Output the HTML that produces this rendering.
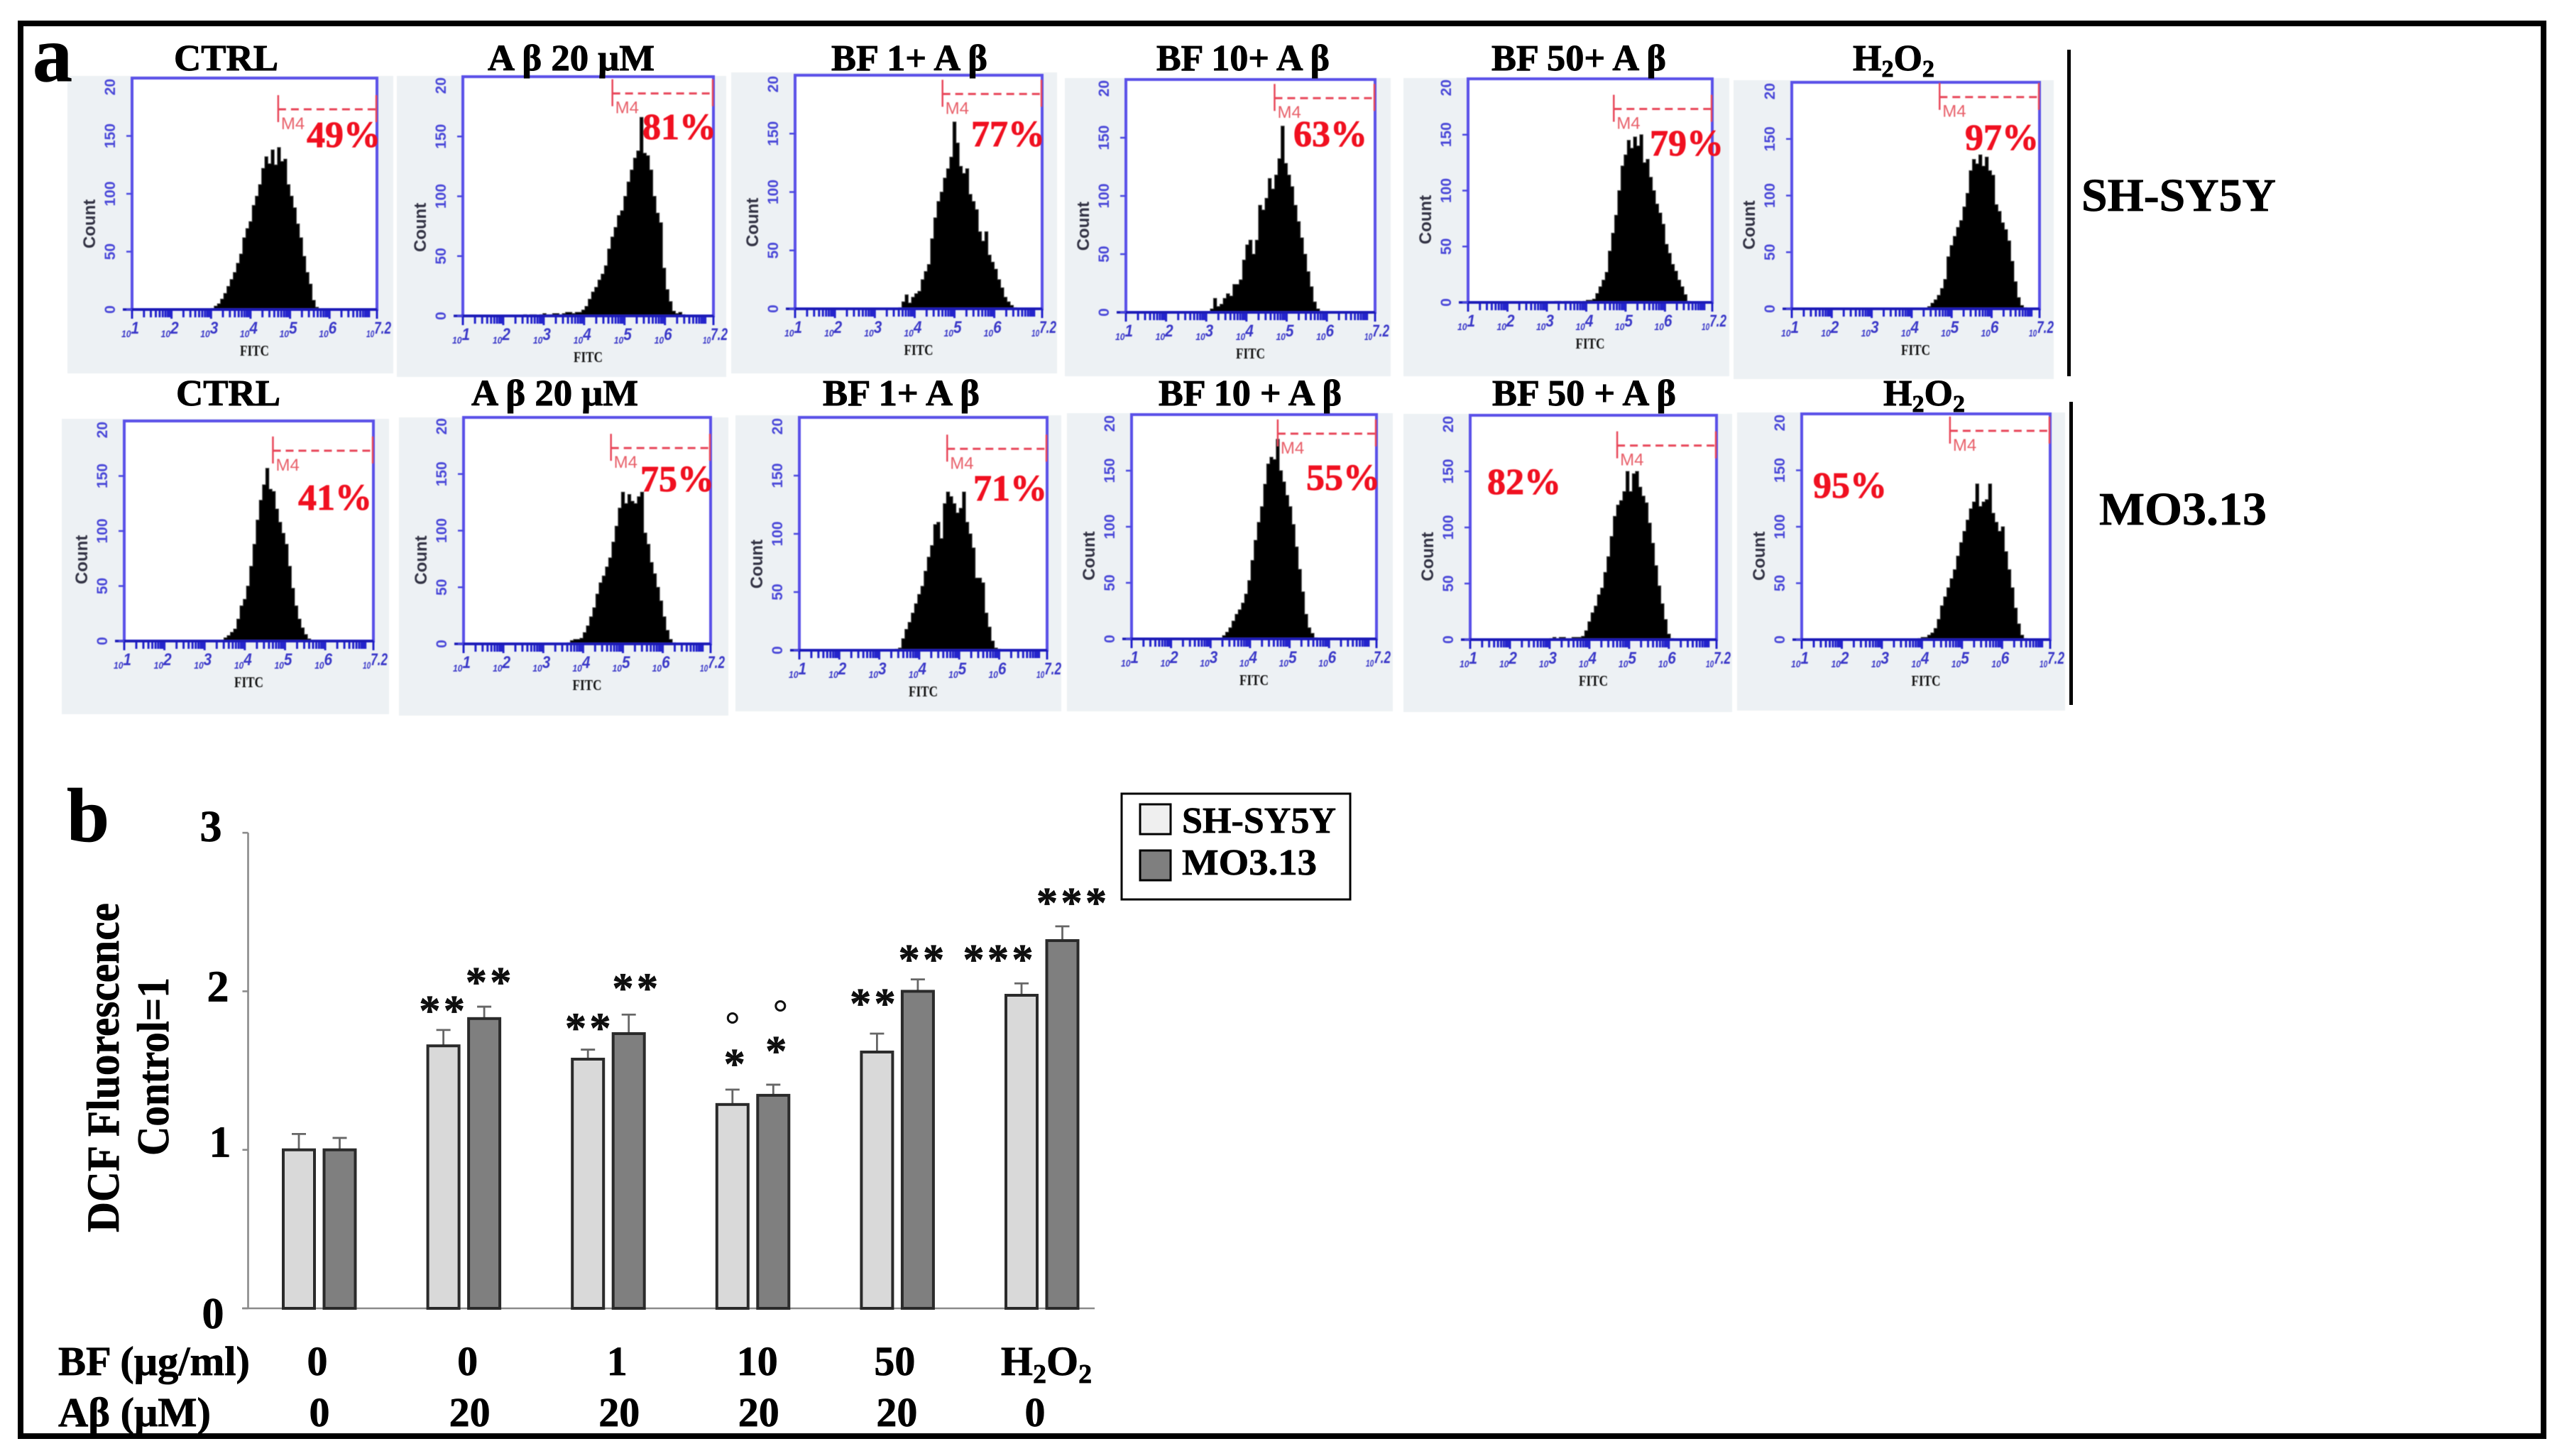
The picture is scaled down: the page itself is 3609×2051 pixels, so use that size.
<!DOCTYPE html>
<html lang="en">
<head>
<meta charset="utf-8">
<title>Flow cytometry histograms and DCF fluorescence bar chart</title>
<style>
html,body{margin:0;padding:0;background:#fff;}
svg{display:block;}
text{font-family:"Liberation Serif",serif;}
.sans{font-family:"Liberation Sans",sans-serif;}
#histograms{filter:blur(0.6px);}
#titles text,#row-2-under text{stroke:#000;stroke-width:0.9px;}
#bar-chart text,.heavy{stroke:#000;stroke-width:0.7px;}
</style>
</head>
<body>
<svg id="figure" xmlns="http://www.w3.org/2000/svg" width="3609" height="2051" viewBox="0 0 3609 2051">
  <rect x="0" y="0" width="3609" height="2051" fill="#ffffff"/>
  <g id="row-2-under"></g>
  <g id="histograms"></g>
  <g id="titles"></g>

  <text class="heavy" x="46" y="114" font-size="112" font-weight="700" fill="#000">a</text>
  <text class="heavy" x="94" y="1185" font-size="108" font-weight="700" fill="#000">b</text>

  <rect x="2912" y="70" width="5" height="460" fill="#000"/>
  <rect x="2915" y="566" width="5" height="427" fill="#000"/>
  <text class="heavy" x="2932" y="297" font-size="66" font-weight="700" textLength="274" lengthAdjust="spacingAndGlyphs" fill="#000">SH-SY5Y</text>
  <text class="heavy" x="2957" y="739" font-size="66" font-weight="700" textLength="236" lengthAdjust="spacingAndGlyphs" fill="#000">MO3.13</text>

  <g id="bar-chart"></g>

  <g>
    <rect x="1580" y="1118" width="322" height="149" fill="#fff" stroke="#000" stroke-width="3"/>
    <rect x="1606" y="1133" width="43" height="42" fill="#efefef" stroke="#000" stroke-width="3"/>
    <text class="heavy" x="1665" y="1173" font-size="52" font-weight="700" textLength="217" lengthAdjust="spacingAndGlyphs" fill="#000">SH-SY5Y</text>
    <rect x="1606" y="1198" width="43" height="42" fill="#7f7f7f" stroke="#000" stroke-width="3"/>
    <text class="heavy" x="1665" y="1232" font-size="52" font-weight="700" textLength="190" lengthAdjust="spacingAndGlyphs" fill="#000">MO3.13</text>
  </g>

  <text class="heavy" x="82" y="1937" font-size="58" font-weight="700" textLength="270" lengthAdjust="spacingAndGlyphs" fill="#000">BF (μg/ml)</text>
  <text class="heavy" x="82" y="2009" font-size="58" font-weight="700" textLength="215" lengthAdjust="spacingAndGlyphs" fill="#000">Aβ (μM)</text>

  <text class="heavy" transform="translate(167 1736) rotate(-90)" x="0" y="0" font-size="65" font-weight="700" textLength="464" lengthAdjust="spacingAndGlyphs" fill="#000">DCF Fluorescence</text>
  <text class="heavy" transform="translate(237 1628) rotate(-90)" x="0" y="0" font-size="64" font-weight="700" textLength="251" lengthAdjust="spacingAndGlyphs" fill="#000">Control=1</text>

  <rect x="29" y="33" width="3554" height="1990" fill="none" stroke="#000" stroke-width="8"/>
</svg>

<script>
/* ---------- Bar chart data ---------- */
const barCategoriesBF = ['0', '0', '1', '10', '50', 'H2O2'];
const barCategoriesAB = ['0', '20', '20', '20', '20', '0'];
const shsy5yValues = [1.0, 1.656, 1.572, 1.286, 1.617, 1.975];
const mo313Values = [1.0, 1.828, 1.733, 1.344, 2.0, 2.32];
const shsy5yErrors = [0.10, 0.10, 0.06, 0.094, 0.116, 0.075];
const mo313Errors = [0.075, 0.075, 0.12, 0.067, 0.075, 0.09];
const shsy5yStars = ['', '**', '**', '*', '**', '***'];
const mo313Stars = ['', '**', '**', '*', '**', '***'];
const shsy5yStarLevels = [0, 1.91, 1.80, 1.574, 1.955, 2.233];
const mo313StarLevels = [0, 2.09, 2.05, 1.655, 2.233, 2.59];
const yTickValues = [0, 1, 2, 3];

/* ---------- Histogram data: counts per bin, bins 0.08 log10 units wide ---------- */
const histogramBinStep = 0.08;
const histogramStarts = [3.0, 2.5, 3.6, 3.1, 3.2, 4.4, 3.4, 3.6, 3.4, 3.3, 3.0, 3.9];
const histCtrlSH = [1,3,5,9,14,20,26,32,40,48,62,70,76,90,98,108,122,132,126,138,125,140,128,130,108,98,88,74,62,46,32,22,8,2];
const histAbetaSH = [1,0,1,1,0,1,2,1,1,2,2,1,2,3,3,2,3,3,5,8,14,20,24,30,35,42,56,66,74,84,88,100,112,122,132,138,166,136,134,122,100,86,78,40,22,12,4,2,3,1];
const histBf1SH = [1,6,12,5,10,13,15,25,32,38,60,78,92,100,112,120,130,160,142,122,116,120,98,92,85,66,58,66,46,40,34,25,18,10,6,3,1];
const histBf10SH = [3,12,5,7,12,16,14,24,24,28,45,58,62,50,62,92,88,98,115,106,118,132,160,128,118,108,92,78,64,50,35,22,9,3,1];
const histBf50SH = [1,1,0,1,1,0,1,1,0,1,2,2,3,8,14,20,27,46,62,78,100,122,132,145,138,148,140,150,125,128,112,100,88,80,70,52,44,34,28,20,14,7,1];
const histH2o2SH = [2,5,8,12,18,26,46,56,64,72,78,90,102,122,132,128,136,126,134,122,118,92,86,76,70,60,42,24,10,3,1];
const histCtrlMO = [1,3,5,8,11,20,32,38,50,68,88,110,128,142,157,138,136,120,108,98,88,68,48,32,20,12,6,2];
const histAbetaMO = [1,3,4,4,5,10,16,24,32,44,54,60,68,76,90,104,120,134,124,132,126,124,130,134,98,88,72,62,50,38,24,12,4,1];
const histBf1MO = [1,2,10,18,24,32,40,48,55,68,80,90,108,110,96,126,136,132,126,118,122,136,110,100,88,62,62,58,32,20,8,2,1];
const histBf10MO = [3,6,10,16,22,26,32,40,52,70,88,104,118,138,156,162,160,178,150,140,128,118,102,82,62,42,22,10,5,1];
const histBf50MO = [1,2,1,2,2,1,1,2,2,2,3,8,16,24,30,40,46,60,74,92,110,120,124,132,150,132,148,150,136,128,122,104,86,66,48,32,18,5,1];
const histH2o2MO = [1,2,2,4,6,10,18,30,38,46,54,62,74,86,96,106,116,122,138,118,122,124,138,112,104,96,100,78,62,46,28,14,4,1];
const histogramSeries = [histCtrlSH, histAbetaSH, histBf1SH, histBf10SH, histBf50SH, histH2o2SH, histCtrlMO, histAbetaMO, histBf1MO, histBf10MO, histBf50MO, histH2o2MO];

const histogramTitles = ['CTRL', 'A β 20 μM', 'BF 1+ A β', 'BF 10+ A β', 'BF 50+ A β', 'H2O2', 'CTRL', 'A β 20 μM', 'BF 1+ A β', 'BF 10 + A β', 'BF 50 + A β', 'H2O2'];
const histogramPercents = ['49%', '81%', '77%', '63%', '79%', '97%', '41%', '75%', '71%', '55%', '82%', '95%'];
const markerStartLog = 4.70;
const markerEndLog = 7.2;
const markerLevels = [173, 186, 184, 184, 173, 187, 173, 173, 173, 183, 173, 185];
const countTicks = [0, 50, 100, 150];
const countAxisMax = 200;
const logAxisMin = 1;
const logAxisMax = 7.2;
const decadeLabels = ['1', '2', '3', '4', '5', '6', '7.2'];
const decadeValues = [1, 2, 3, 4, 5, 6, 7.2];
const minorMultipliers = [2, 3, 4, 5, 6, 7, 8, 9];

const SVGNS = 'http://www.w3.org/2000/svg';
function make(tag, attrs, parent, content) {
  const node = document.createElementNS(SVGNS, tag);
  for (const key in attrs) node.setAttribute(key, attrs[key]);
  if (content !== undefined) node.textContent = content;
  parent.appendChild(node);
  return node;
}

/* ---------- Histogram layout (page geometry, not data) ---------- */
function panelLayout() {
  return [
    {bg:[95,107,459,419],  box:[186,110,345,326],  pct:[432,207],  title:[245,99,147]},
    {bg:[559,107,464,424], box:[652,108,353,337],  pct:[905,196],  title:[687,99,235]},
    {bg:[1030,102,459,424],box:[1120,106,348,329], pct:[1368,206], title:[1171,99,220]},
    {bg:[1500,110,459,420],box:[1586,112,351,328], pct:[1822,206], title:[1629,99,244]},
    {bg:[1977,110,459,420],box:[2068,111,344,315], pct:[2324,219], title:[2101,99,246]},
    {bg:[2442,113,451,421],box:[2524,116,349,319], pct:[2768,211], title:[2610,99,115]},
    {bg:[87,590,461,416],  box:[175,593,351,310],  pct:[420,718],  title:[248,571,147]},
    {bg:[562,588,464,420], box:[653,588,348,319],  pct:[902,692],  title:[664,571,235]},
    {bg:[1036,585,459,417],box:[1126,588,349,328], pct:[1371,705], title:[1159,571,221]},
    {bg:[1503,582,459,420],box:[1594,584,345,316], pct:[1840,690], title:[1632,571,258]},
    {bg:[1977,583,463,420],box:[2071,585,347,316], pct:[2095,696], title:[2102,571,259]},
    {bg:[2447,581,462,420],box:[2538,583,350,318], pct:[2554,701], title:[2653,571,113]}
  ];
}

function drawTitle(parent, label, geom, index) {
  const t = make('text', {x: geom[0], y: geom[1], 'font-size': 52, 'font-weight': 700, fill: '#000'}, parent);
  
  
  if (label === 'H2O2') {
    make('tspan', {}, t, 'H');
    make('tspan', {'font-size': 34, dy: 9}, t, '2');
    make('tspan', {dy: -9}, t, 'O');
    make('tspan', {'font-size': 34, dy: 9}, t, '2');
  } else {
    t.setAttribute('textLength', geom[2]);
    t.setAttribute('lengthAdjust', 'spacingAndGlyphs');
    t.textContent = label;
  }
}

function drawHistogram(parent, index, geom) {
  const box = geom.box;
  const bx = box[0], by = box[1], bw = box[2], bh = box[3];
  const baseY = by + bh;
  const xLog = function (v) { return bx + (v - logAxisMin) / (logAxisMax - logAxisMin) * bw; };
  const yCount = function (c) { return baseY - c / countAxisMax * bh; };

  const g = make('g', {}, parent);
  
  

  const bg = make('rect', {x: geom.bg[0], y: geom.bg[1], width: geom.bg[2], height: geom.bg[3], fill: '#edf1f4'}, g);
  
  

  const plot = make('rect', {x: bx, y: by, width: bw, height: bh, fill: '#ffffff'}, g);
  
  

  const values = histogramSeries[index];
  const start = histogramStarts[index];
  let d = 'M' + xLog(start).toFixed(1) + ' ' + baseY;
  values.forEach(function (count, i) {
    const x0 = xLog(start + i * histogramBinStep).toFixed(1);
    const x1 = xLog(start + (i + 1) * histogramBinStep).toFixed(1);
    const y = yCount(count).toFixed(1);
    d += 'L' + x0 + ' ' + y + 'L' + x1 + ' ' + y;
  });
  d += 'L' + xLog(start + values.length * histogramBinStep).toFixed(1) + ' ' + baseY + 'Z';
  const hist = make('path', {d: d, fill: '#000', stroke: '#444', 'stroke-width': 1}, g);
  
  

  const border = make('rect', {x: bx, y: by, width: bw, height: bh, fill: 'none', stroke: '#5a50e8', 'stroke-width': 4}, g);
  
  

  let tickPath = '';
  let d1;
  for (d1 = 1; d1 < 7; d1++) {
    tickPath += 'M' + xLog(d1).toFixed(1) + ' ' + baseY + 'v13';
    minorMultipliers.forEach(function (m) {
      const lv = d1 + Math.log10(m);
      if (lv <= logAxisMax) tickPath += 'M' + xLog(lv).toFixed(1) + ' ' + baseY + 'v11';
    });
  }
  tickPath += 'M' + xLog(7).toFixed(1) + ' ' + baseY + 'v11M' + xLog(7.2).toFixed(1) + ' ' + baseY + 'v13';
  const xTicks = make('path', {d: tickPath, fill: 'none', stroke: '#2424cc', 'stroke-width': 3}, g);
  
  

  const xAxisLine = make('line', {x1: bx - 13, x2: bx + bw, y1: baseY, y2: baseY, stroke: '#1a1ab4', 'stroke-width': 3.5}, g);
  
  

  let yTickPath = '';
  countTicks.forEach(function (c) { yTickPath += 'M' + (bx - 8) + ' ' + yCount(c).toFixed(1) + 'H' + bx; });
  const yTicks = make('path', {d: yTickPath, stroke: '#4a48e0', 'stroke-width': 2.5, fill: 'none'}, g);
  
  

  countTicks.forEach(function (c) {
    const lx = bx - 24, ly = yCount(c);
    const tl = make('text', {x: lx, y: ly, transform: 'rotate(-90 ' + lx + ' ' + ly + ')', 'text-anchor': 'middle', 'font-size': 21, 'font-weight': 700, fill: '#4a48d8', class: 'sans'}, g, String(c));
    
    
  });
  const topLabel = make('text', {x: bx - 24, y: by + 1, transform: 'rotate(-90 ' + (bx - 24) + ' ' + (by + 1) + ')', 'text-anchor': 'end', 'font-size': 21, 'font-weight': 700, fill: '#4a48d8', class: 'sans'}, g, '20');
  
  

  const cx = bx - 52, cy = by + bh * 0.63;
  const countLabel = make('text', {x: cx, y: cy, transform: 'rotate(-90 ' + cx + ' ' + cy + ')', 'text-anchor': 'middle', 'font-size': 24, 'font-weight': 700, fill: '#333344', class: 'sans'}, g, 'Count');
  
  

  decadeValues.forEach(function (v, i) {
    const lx = xLog(v) - 15, ly = baseY + 39;
    const labelLength = decadeLabels[i].length > 1 ? 35 : 25;
    const tl = make('text', {x: lx, y: ly, fill: '#3a38c8', class: 'sans', 'font-weight': 700, 'font-size': 14, 'font-style': 'italic', textLength: labelLength, lengthAdjust: 'spacingAndGlyphs'}, g);
    
    
    make('tspan', {}, tl, '10');
    make('tspan', {'font-size': 24, dy: -5}, tl, decadeLabels[i]);
  });

  const fitc = make('text', {x: bx + bw / 2, y: baseY + 65, 'text-anchor': 'middle', 'font-size': 21, 'font-weight': 700, fill: '#111', textLength: 41, lengthAdjust: 'spacingAndGlyphs'}, g, 'FITC');
  
  

  const mx0 = xLog(markerStartLog), mx1 = xLog(markerEndLog), my = yCount(markerLevels[index]);
  const markerTicks = make('path', {d: 'M' + mx0 + ' ' + (my - 20) + 'V' + (my + 18) + 'M' + (mx1 - 1) + ' ' + (my - 20) + 'V' + (my + 18), stroke: '#e8475a', 'stroke-width': 2.5, fill: 'none'}, g);
  
  
  const markerLine = make('line', {x1: mx0, y1: my, x2: mx1, y2: my, stroke: '#e8475a', 'stroke-width': 3, 'stroke-dasharray': '11 7'}, g);
  
  
  const markerText = make('text', {x: mx0 + 4, y: my + 28, 'font-size': 24, fill: '#e8606a', class: 'sans'}, g, 'M4');
  
  

  const pct = make('text', {x: geom.pct[0], y: geom.pct[1], 'font-size': 52, 'font-weight': 700, fill: '#f01020', stroke: '#f01020', 'stroke-width': 0.8}, g, histogramPercents[index]);
  
  
}

function drawHistograms() {
  const under = document.getElementById('row-2-under');
  const panels = document.getElementById('histograms');
  const titles = document.getElementById('titles');
  const layout = panelLayout();
  layout.forEach(function (geom, i) {
    /* the last panel's background covers the subscripts of its title */
    drawTitle(i === 11 ? under : titles, histogramTitles[i], geom.title, i);
    drawHistogram(panels, i, geom);
  });
}

/* ---------- Bar chart ---------- */
function drawBarChart() {
  const root = document.getElementById('bar-chart');
  const baseY = 1843, unit = 223.3, axisX = 349.5;
  const yValue = function (v) { return baseY - v * unit; };
  const xLight = function (i) { return 421 + i * 203.6; };
  const xDark = function (i) { return xLight(i) + 57.5; };
  const barW = 44;

  const axis = make('path', {d: 'M' + axisX + ' ' + yValue(3) + 'V' + baseY + 'M341 ' + baseY + 'H1542', fill: 'none', stroke: '#8a8a8a', 'stroke-width': 2.6}, root);
  
  

  const labelShiftX = [300, 310, 307, 297];
  const labelBaseline = [28, 10, 14, 12];
  yTickValues.forEach(function (v, i) {
    const tick = make('line', {x1: axisX - 8, x2: axisX, y1: yValue(v), y2: yValue(v), stroke: '#8a8a8a', 'stroke-width': 2.6}, root);
    
    
    const label = make('text', {x: labelShiftX[i], y: yValue(v) + labelBaseline[i], 'text-anchor': 'middle', 'font-size': 62, 'font-weight': 700, fill: '#000'}, root, String(v));
    
    
  });

  function drawSeries(name, xFn, values, errors, fill) {
    values.forEach(function (v, i) {
      const cx = xFn(i);
      const top = yValue(v + errors[i]);
      const err = make('path', {d: 'M' + cx + ' ' + yValue(v) + 'V' + top + 'M' + (cx - 10) + ' ' + top + 'H' + (cx + 10), stroke: '#666', 'stroke-width': 2.8, fill: 'none'}, root);
      
      
      const bar = make('rect', {x: cx - barW / 2, y: yValue(v), width: barW, height: baseY - yValue(v), fill: fill, stroke: '#2a2a2a', 'stroke-width': 4}, root);
      
      
    });
  }
  drawSeries('sh-sy5y', xLight, shsy5yValues, shsy5yErrors, '#d9d9d9');
  drawSeries('mo3-13', xDark, mo313Values, mo313Errors, '#7f7f7f');

  function drawStars(name, xFn, marks, levels, nudges) {
    marks.forEach(function (mark, i) {
      const n = mark.length;
      for (let k = 0; k < n; k++) {
        const sx = xFn(i) + nudges[i] + (k - (n - 1) / 2) * 34.5;
        const star = make('text', {x: sx, y: yValue(levels[i]) + 27, 'text-anchor': 'middle', 'font-size': 60, 'font-weight': 700, fill: '#111'}, root, '*');
        
        
      }
    });
  }
  drawStars('sh-sy5y', xLight, shsy5yStars, shsy5yStarLevels, [0, -2, 0, 3, -6, -33]);
  drawStars('mo3-13', xDark, mo313Stars, mo313StarLevels, [0, 6, 9, 4, 5, 13]);

  const ringA = make('circle', {cx: xLight(3), cy: 1434, r: 6.5, fill: 'none', stroke: '#111', 'stroke-width': 3}, root);
  
  
  const ringB = make('circle', {cx: xDark(3) + 10, cy: 1417, r: 6.5, fill: 'none', stroke: '#111', 'stroke-width': 3}, root);
  
  

  const groupX = function (i) { return 450 + i * 203.6; };
  const bfShift = [-3, 5, 12, 6, -4, 6];
  const abShift = [0, 8, 15, 8, -1, -10];
  barCategoriesBF.forEach(function (label, i) {
    const t = make('text', {x: groupX(i) + bfShift[i], y: 1937, 'text-anchor': 'middle', 'font-size': 58, 'font-weight': 700, fill: '#000'}, root);
    
    
    if (label === 'H2O2') {
      make('tspan', {}, t, 'H');
      make('tspan', {'font-size': 38, dy: 11}, t, '2');
      make('tspan', {dy: -11}, t, 'O');
      make('tspan', {'font-size': 38, dy: 11}, t, '2');
    } else {
      t.textContent = label;
    }
  });
  barCategoriesAB.forEach(function (label, i) {
    const t = make('text', {x: groupX(i) + abShift[i], y: 2009, 'text-anchor': 'middle', 'font-size': 58, 'font-weight': 700, fill: '#000'}, root, label);
    
    
  });
}

drawHistograms();
drawBarChart();
</script>
</body>
</html>
